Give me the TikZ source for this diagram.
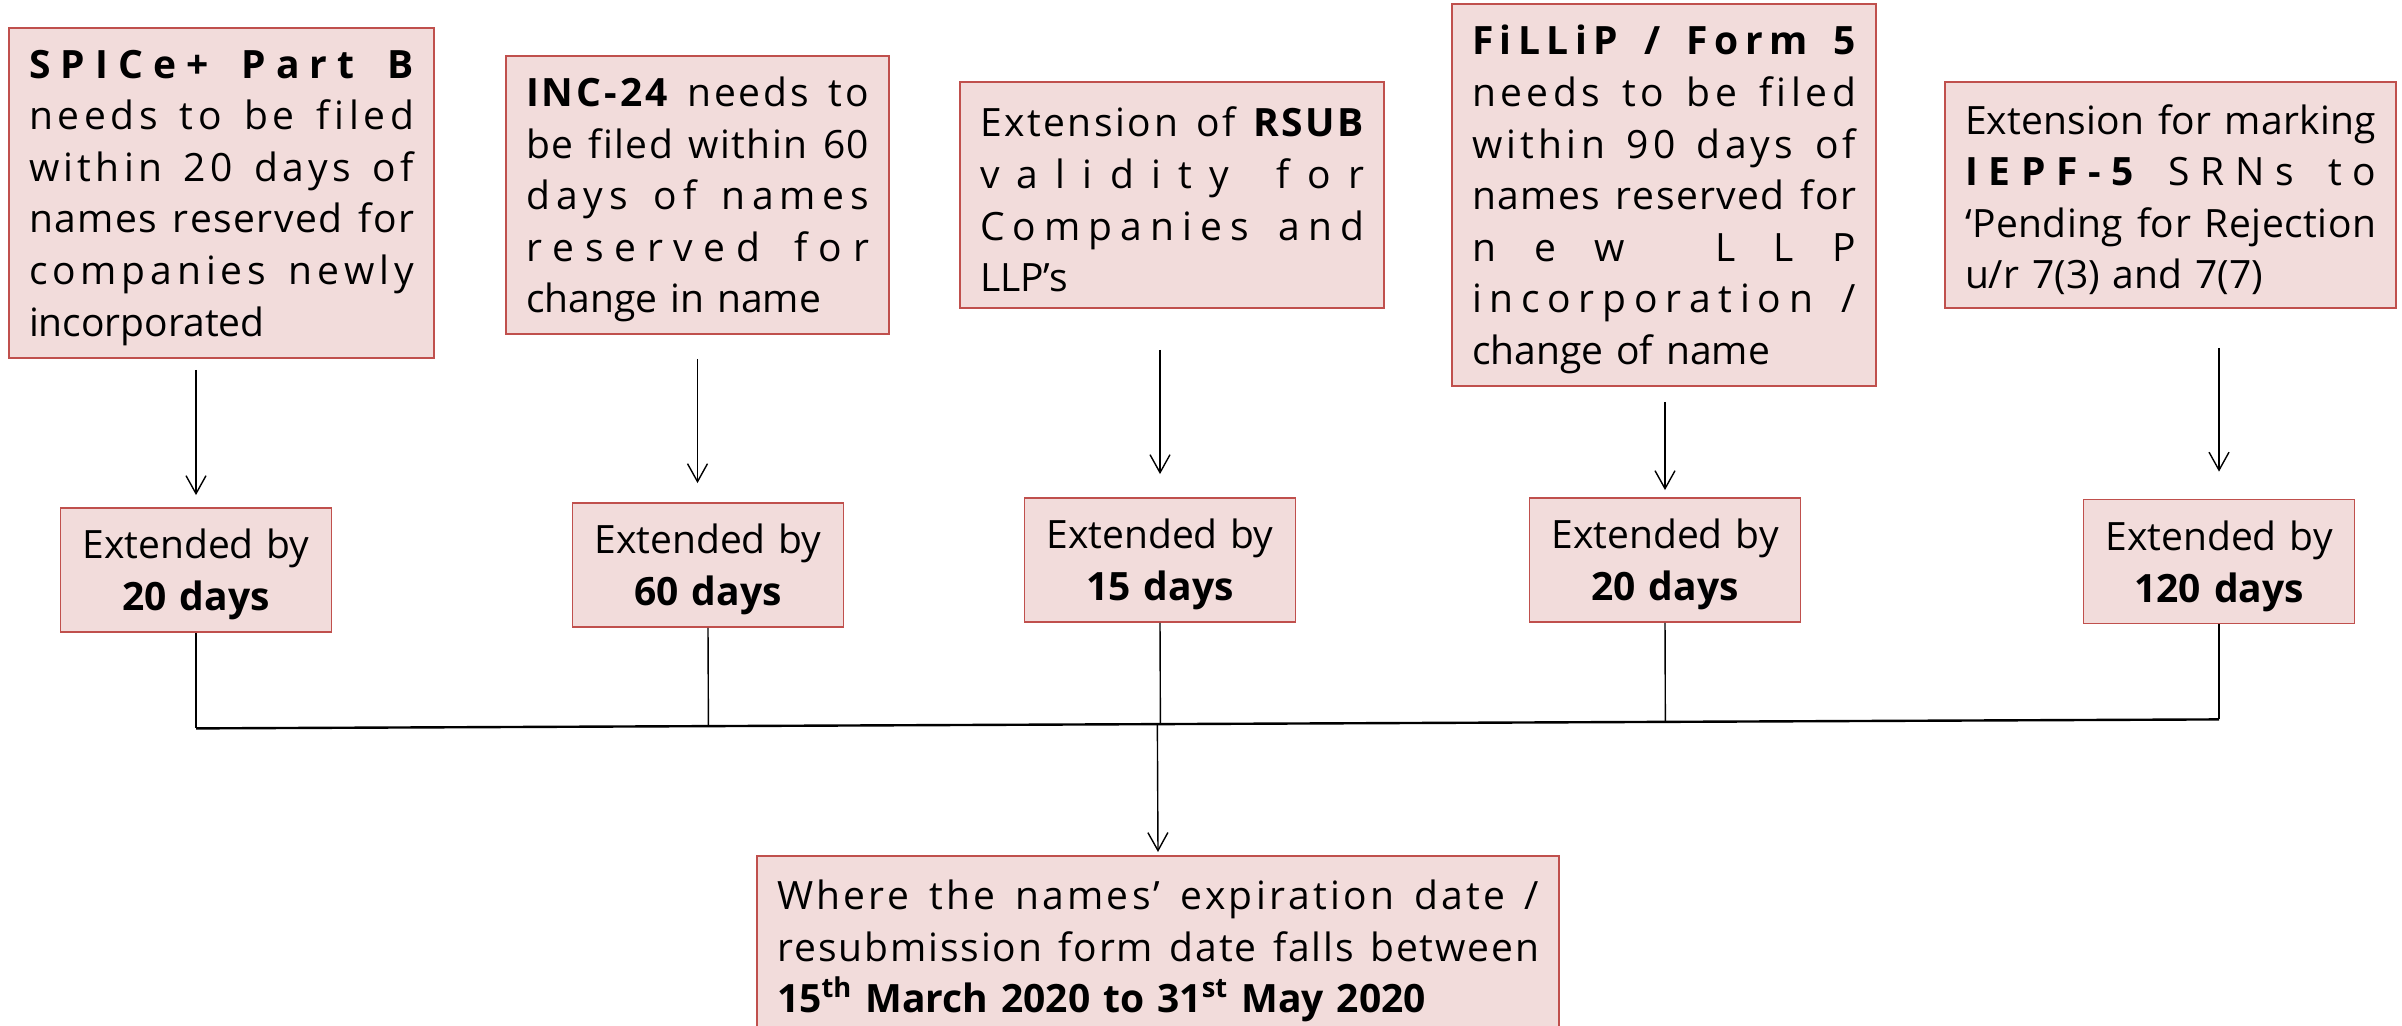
\documentclass[tikz,border=0pt]{standalone}
\usepackage{fontspec}
\setmainfont{Open Sans}
\usetikzlibrary{arrows.meta,calc}
\definecolor{boxred}{HTML}{C0504D}
\definecolor{boxpink}{HTML}{F2DCDB}
\newcommand\bodyfont{\fontsize{19.5}{25.8}\selectfont}
% lower the text a little inside its box
\newcommand\droptext{\par\kern-4.6pt}
% spread the letters of one line over the full box width
\newcommand\spr[1]{\makebox[\linewidth][s]{\sprword#1 \sprstop\unskip}}
\def\sprword#1 #2\sprstop{\sprletters#1\relax
  \ifx\relax#2\relax\else\ \hfil\sprword#2\sprstop\fi}
\def\sprletters#1{\ifx#1\relax\else
  \ifx#1\bfseries#1\else\ifx#1\mdseries#1\else#1\hfil\fi\fi
  \expandafter\sprletters\fi}
\begin{document}
\begin{tikzpicture}[x=0.5pt, y=-0.5pt,
    textbox/.style={draw=boxred, fill=boxpink, line width=0.9pt, inner xsep=10pt, inner ysep=3pt, align=left, font=\bodyfont, execute at end node=\droptext},
    extbox/.style={textbox, text width=115.5pt, minimum height=62pt, align=center},
    arr/.style={-{Straight Barb[length=9pt,width=10pt]}, line width=0.7pt},
    link/.style={line width=0.7pt},
    bus/.style={line width=1.2pt}]
  \clip (0,0) rectangle (2402,1026);
  % forms
  \node[textbox, text width=192.5pt, minimum height=165pt] (spice) at (221.5,193) {%
    \spr{\bfseries SPICe+ Part B}\\
    \spr{needs to be filed}\\
    \spr{within 20 days of}\\
    \spr{names reserved for}\\
    \spr{companies newly}\\
    incorporated};
  \node[textbox, text width=171.5pt, minimum height=139pt] (inc) at (697.5,195) {%
    \spr{\bfseries INC-24 \mdseries needs to}\\
    \spr{be filed within 60}\\
    \spr{days of names}\\
    \spr{reserved for}\\
    change in name};
  \node[textbox, text width=192pt, minimum height=113pt] (rsub) at (1172,195) {%
    \spr{Extension of \bfseries RSUB}\\
    \spr{validity for}\\
    \spr{Companies and}\\
    LLP’s};
  \node[textbox, text width=192pt, minimum height=191pt] (fillip) at (1664,195) {%
    \spr{\bfseries FiLLiP / Form 5}\\
    \spr{needs to be filed}\\
    \spr{within 90 days of}\\
    \spr{names reserved for}\\
    \spr{new LLP}\\
    \spr{incorporation /}\\
    change of name};
  \node[textbox, text width=205.5pt, minimum height=113pt] (iepf) at (2170.5,195) {%
    \spr{Extension for marking}\\
    \spr{\bfseries IEPF-5 \mdseries SRNs to}\\
    \spr{‘Pending for Rejection}\\
    u/r 7(3) and 7(7)};
  % extensions
  \node[extbox] (ext1) at (196,570) {Extended by\\\textbf{20 days}};
  \node[extbox] (ext2) at (708,565) {Extended by\\\textbf{60 days}};
  \node[extbox] (ext3) at (1160,560) {Extended by\\\textbf{15 days}};
  \node[extbox] (ext4) at (1665,560) {Extended by\\\textbf{20 days}};
  \node[extbox] (ext5) at (2219,561.5) {Extended by\\\textbf{120 days}};
  % condition
  \node[textbox, text width=381pt, inner ysep=12pt, anchor=north] (window) at (1158,855) {%
    \spr{Where the names’ expiration date /}\\
    \spr{resubmission form date falls between}\\
    \textbf{15\textsuperscript{th} March 2020 to 31\textsuperscript{st} May 2020}};
  \draw[arr, shorten <=5.5pt, shorten >=6pt] (spice.south -| ext1.north) -- (ext1.north);
  \draw[arr, shorten <=12pt, shorten >=9.5pt] (inc.south) -- (inc.south |- ext2.north);
  \draw[arr, shorten <=20.5pt, shorten >=11.5pt] (rsub.south -| ext3.north) -- (ext3.north);
  \draw[arr, shorten <=7.5pt, shorten >=3.5pt] (fillip.south -| ext4.north) -- (ext4.north);
  \draw[arr, shorten <=19.5pt, shorten >=13.5pt] (iepf.south -| ext5.north) -- (ext5.north);
  % joining line
  \coordinate (busL) at ([yshift=-47.75pt]ext1.south);
  \coordinate (busR) at ([yshift=-47.5pt]ext5.south);
  \draw[bus] (busL) -- (busR);
  \draw[link] (ext1.south) -- (busL);
  \draw[link] (ext5.south) -- (busR);
  \foreach \e in {ext2,ext3,ext4}
    \draw[link] (\e.south) -- ($(busL)!(\e.south)!(busR)$);
  \draw[arr, shorten >=1.5pt] ($(busL)!(window.north)!(busR)$) -- (window.north);
\end{tikzpicture}
\end{document}
